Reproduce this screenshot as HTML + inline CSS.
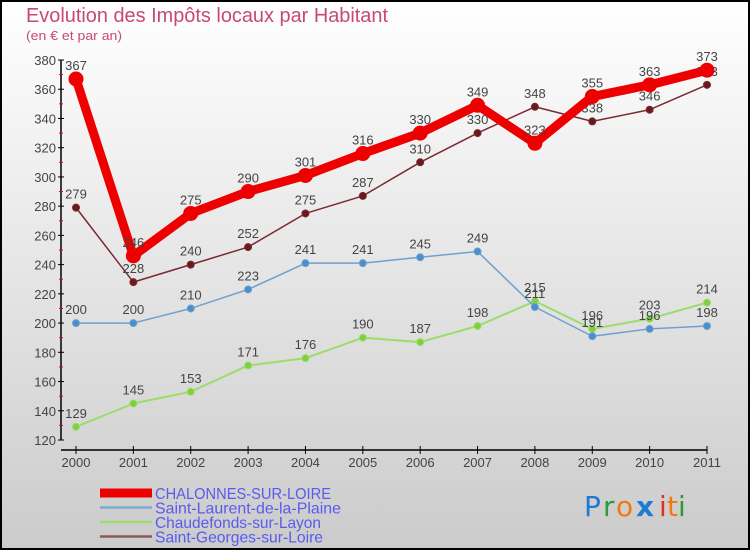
<!DOCTYPE html>
<html><head><meta charset="utf-8"><style>
html,body{margin:0;padding:0;}
svg{display:block;font-family:"Liberation Sans",sans-serif;}
</style></head><body>
<svg id="c" width="750" height="550" viewBox="0 0 750 550">
<defs><linearGradient id="bg" x1="0" y1="0" x2="0" y2="1"><stop offset="0" stop-color="#ffffff"/><stop offset="1" stop-color="#cbcbcb"/></linearGradient></defs>
<rect x="1" y="1" width="748" height="548" fill="url(#bg)" stroke="#000" stroke-width="2"/>
<text x="26" y="22" font-size="20" fill="#c84a6e" textLength="362" lengthAdjust="spacingAndGlyphs">Evolution des Impôts locaux par Habitant</text>
<text x="26" y="40" font-size="13" fill="#c84a6e" textLength="96" lengthAdjust="spacingAndGlyphs">(en € et par an)</text>
<g id="axes"></g>
<g id="series"></g>
<g id="legend"></g>
<g font-size="28" font-family="DejaVu Sans, sans-serif">
<text x="584" y="516" fill="#1e7bd0">P</text><text x="603" y="516" fill="#2a9a3a">r</text><text x="616" y="516" fill="#f07a10">o</text><text x="636" y="516" fill="#1e7bd0" font-weight="bold">x</text><text x="659" y="516" fill="#e03020">i</text><text x="667" y="516" fill="#f07a10">t</text><text x="678" y="516" fill="#2a9a3a">i</text>
</g>
</svg>
<script>
const years=["2000","2001","2002","2003","2004","2005","2006","2007","2008","2009","2010","2011"];
const yTicks=[120,140,160,180,200,220,240,260,280,300,320,340,360,380];
const chalonnes=[367,246,275,290,301,316,330,349,323,355,363,373];
const laurent=[200,200,210,223,241,241,245,249,211,191,196,198];
const chaudefonds=[129,145,153,171,176,190,187,198,215,196,203,214];
const georges=[279,228,240,252,275,287,310,330,348,338,346,363];
const NS="http://www.w3.org/2000/svg";
function X(i){return 76+i*(707-76)/11;}
function Y(v){return 440-(v-120)*(380/260);}
function mk(t,a,p){const e=document.createElementNS(NS,t);for(const k in a)e.setAttribute(k,a[k]);p.appendChild(e);return e;}
const ax=document.getElementById('axes');
let yl=mk('line',{x1:61,y1:60,x2:61,y2:440,stroke:'#000','stroke-width':1.5},ax);


let xl=mk('line',{x1:61,y1:450,x2:707,y2:450,stroke:'#000','stroke-width':1.5},ax);


yTicks.forEach((v,i)=>{
  mk('line',{x1:58,y1:Y(v),x2:64,y2:Y(v),stroke:'#000'},ax);
  if(i<yTicks.length-1)mk('line',{x1:59,y1:Y(v+10),x2:63,y2:Y(v+10),stroke:'#e00'},ax);
  const t=mk('text',{x:56,y:Y(v)+5,'font-size':13,fill:'#444','text-anchor':'end'},ax);
  
  
  t.textContent=v;
});
years.forEach((y,i)=>{
  mk('line',{x1:X(i),y1:446,x2:X(i),y2:454,stroke:'#000'},ax);
  const t=mk('text',{x:X(i),y:467,'font-size':13,fill:'#444','text-anchor':'middle'},ax);
  
  
  t.textContent=y;
});
const sg=document.getElementById('series');
function series(vals,color,dot,w,r,name){
  const g=mk('g',{},sg);
  
  
  mk('polyline',{points:vals.map((v,i)=>X(i)+','+Y(v)).join(' '),fill:'none',stroke:color,'stroke-width':w,'stroke-linejoin':'round'},g);
  vals.forEach((v,i)=>{
    const c=mk('circle',{cx:X(i),cy:Y(v),r:r,fill:dot,stroke:color,'stroke-width':1},g);
    
    
    const t=mk('text',{x:X(i),y:Y(v)-9,'font-size':13,fill:'#444','text-anchor':'middle'},g);
    
    
    t.textContent=v;
  });
}
series(chaudefonds,'#9ddc6a','#7ed040',2,3.5,'chaudefonds-series');
series(laurent,'#6fa0cc','#4a8ed0',1.5,3.5,'saint-laurent-series');
series(georges,'#7a2a30','#6a1a1e',1.5,3.5,'saint-georges-series');
series(chalonnes,'#ee0000','#ee0000',9,7,'chalonnes-series');
const lg=document.getElementById('legend');
const names=["CHALONNES-SUR-LOIRE","Saint-Laurent-de-la-Plaine","Chaudefonds-sur-Layon","Saint-Georges-sur-Loire"];
const lcol=['#ee0000','#7aaad0','#9ddc6a','#8a5a5a'];
const lw=[9,2.5,2.5,2.5];
const lens=[176,186,166,168];
names.forEach((n,i)=>{
  const yy=493+i*14.5;
  const l=mk('line',{x1:100,y1:yy,x2:152,y2:yy,stroke:lcol[i],'stroke-width':lw[i]},lg);
  
  
  const t=mk('text',{x:155,y:yy+6,'font-size':16,fill:'#5a5af0',textLength:lens[i],lengthAdjust:'spacingAndGlyphs'},lg);
  
  
  t.textContent=n;
});
</script>
</body></html>
